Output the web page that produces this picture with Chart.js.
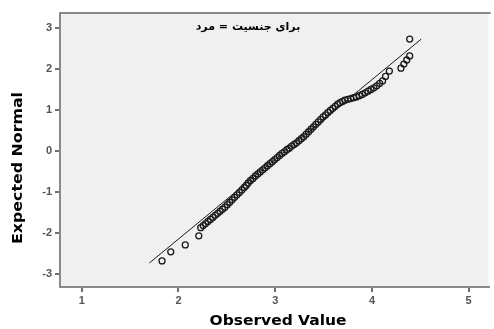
<!DOCTYPE html>
<html>
<head>
<meta charset="utf-8">
<script src="https://cdn.jsdelivr.net/npm/chart.js@4"></script>
<style>
  body { margin: 0; background: #fff; }
  canvas { display: block; }
</style>
</head>
<body>
<canvas id="qq" width="494" height="329"></canvas>
<script>
// Normal Q-Q plot
const chartTitle = "برای جنسیت = مرد";
const xTitle = "Observed Value";
const yTitle = "Expected Normal";
const xTicks = [1, 2, 3, 4, 5];
const yTicks = [-3, -2, -1, 0, 1, 2, 3];

const observed = [
  1.83, 1.92, 2.07, 2.21,
  2.23, 2.255, 2.28, 2.305, 2.33, 2.355, 2.38, 2.405, 2.43, 2.455,
  2.48, 2.505, 2.53, 2.555, 2.58, 2.605, 2.63, 2.655, 2.68, 2.70, 2.72,
  2.745, 2.77, 2.795, 2.82, 2.845, 2.87, 2.895, 2.92, 2.945, 2.97, 2.995,
  3.02, 3.045, 3.07, 3.095, 3.12, 3.145, 3.17, 3.195, 3.22, 3.245, 3.27,
  3.295, 3.32, 3.345, 3.37, 3.395, 3.42, 3.445, 3.47, 3.495, 3.52, 3.545,
  3.57, 3.595, 3.62, 3.645, 3.67, 3.695, 3.72,
  3.75, 3.78, 3.81, 3.84, 3.87, 3.90, 3.93, 3.96, 3.99, 4.02, 4.05, 4.08,
  4.11, 4.14, 4.18,
  4.30, 4.33, 4.36, 4.39, 4.39
];
const expected = [
  -2.68, -2.46, -2.29, -2.07,
  -1.87, -1.82, -1.77, -1.72, -1.67, -1.62, -1.57, -1.52, -1.47, -1.42,
  -1.37, -1.31, -1.25, -1.19, -1.13, -1.07, -1.01, -0.95, -0.89, -0.84, -0.78,
  -0.72, -0.67, -0.61, -0.56, -0.51, -0.46, -0.41, -0.36, -0.31, -0.26, -0.21,
  -0.16, -0.11, -0.06, -0.02, 0.03, 0.07, 0.12, 0.16, 0.20, 0.25, 0.30,
  0.35, 0.41, 0.47, 0.53, 0.59, 0.65, 0.71, 0.77, 0.83, 0.88, 0.94,
  0.99, 1.04, 1.09, 1.14, 1.18, 1.21, 1.24,
  1.26, 1.28, 1.30, 1.32, 1.35, 1.38, 1.42, 1.46, 1.50, 1.54, 1.59, 1.65,
  1.71, 1.82, 1.95,
  2.02, 2.12, 2.22, 2.32, 2.73
];
// reference line ends
const lineX = [1.70, 4.51];
const lineY = [-2.73, 2.73];

const points = observed.map((v, i) => ({ x: v, y: expected[i] }));
const linePts = lineX.map((v, i) => ({ x: v, y: lineY[i] }));

// plot background, top border, titles
const decor = {
  id: "decor",
  beforeDraw(chart) {
    const { ctx, chartArea: a } = chart;
    ctx.save();
    ctx.fillStyle = "#f0f0f0";
    ctx.fillRect(a.left, a.top, a.right - a.left, a.bottom - a.top);
    ctx.strokeStyle = "#8a8a8a";
    ctx.lineWidth = 2;
    ctx.beginPath();
    ctx.moveTo(a.left, a.top);
    ctx.lineTo(a.right + 2, a.top);
    ctx.stroke();
    ctx.restore();
  },
  afterDraw(chart) {
    const { ctx, chartArea: a } = chart;
    ctx.save();
    ctx.fillStyle = "#000";
    ctx.textAlign = "center";
    ctx.textBaseline = "middle";
    ctx.font = "bold 11px 'DejaVu Sans'";
    ctx.fillText(chartTitle, 248, a.top + 14);

    ctx.font = "bold 14px 'DejaVu Sans'";
    let w = ctx.measureText(xTitle).width;
    ctx.save();
    ctx.translate(278, 321);
    ctx.scale(137 / w, 1);
    ctx.fillText(xTitle, 0, 0);
    ctx.restore();

    w = ctx.measureText(yTitle).width;
    ctx.save();
    ctx.translate(18, 168);
    ctx.rotate(-Math.PI / 2);
    ctx.scale(152 / w, 1);
    ctx.fillText(yTitle, 0, 0);
    ctx.restore();
    ctx.restore();
  }
};

const ctx = document.getElementById("qq").getContext("2d");
new Chart(ctx, {
  type: "scatter",
  data: {
    datasets: [
      {
        label: "points",
        data: points,
        pointStyle: "circle",
        pointRadius: 3,
        pointBorderWidth: 1.3,
        borderColor: "#1a1a1a",
        backgroundColor: "rgba(0,0,0,0)"
      },
      {
        label: "line",
        type: "line",
        data: linePts,
        borderColor: "#1a1a1a",
        borderWidth: 1,
        pointRadius: 0,
        fill: false
      }
    ]
  },
  options: {
    responsive: false,
    animation: false,
    events: [],
    layout: { padding: { top: 13, right: 1, left: 0, bottom: 0 } },
    plugins: {
      legend: { display: false },
      tooltip: { enabled: false },
      title: { display: false }
    },
    scales: {
      x: {
        type: "linear",
        min: 0.775,
        max: 5.207,
        afterFit: s => { s.height = 42; },
        afterBuildTicks: s => { s.ticks = xTicks.map(v => ({ value: v })); },
        grid: { drawOnChartArea: false, drawTicks: true, tickLength: 5, color: "#707070", lineWidth: 2 },
        border: { display: true, color: "#8a8a8a", width: 2 },
        ticks: { color: "#555", font: { family: "Arial, 'Liberation Sans'", size: 11, weight: "bold" }, padding: 2 }
      },
      y: {
        type: "linear",
        min: -3.317,
        max: 3.366,
        afterFit: s => { s.width = 60; },
        afterBuildTicks: s => { s.ticks = yTicks.map(v => ({ value: v })); },
        grid: { drawOnChartArea: false, drawTicks: true, tickLength: 5, color: "#707070", lineWidth: 2 },
        border: { display: true, color: "#8a8a8a", width: 2 },
        ticks: { color: "#555", font: { family: "Arial, 'Liberation Sans'", size: 11, weight: "bold" }, padding: 3 }
      }
    }
  },
  plugins: [decor]
});
</script>
</body>
</html>
